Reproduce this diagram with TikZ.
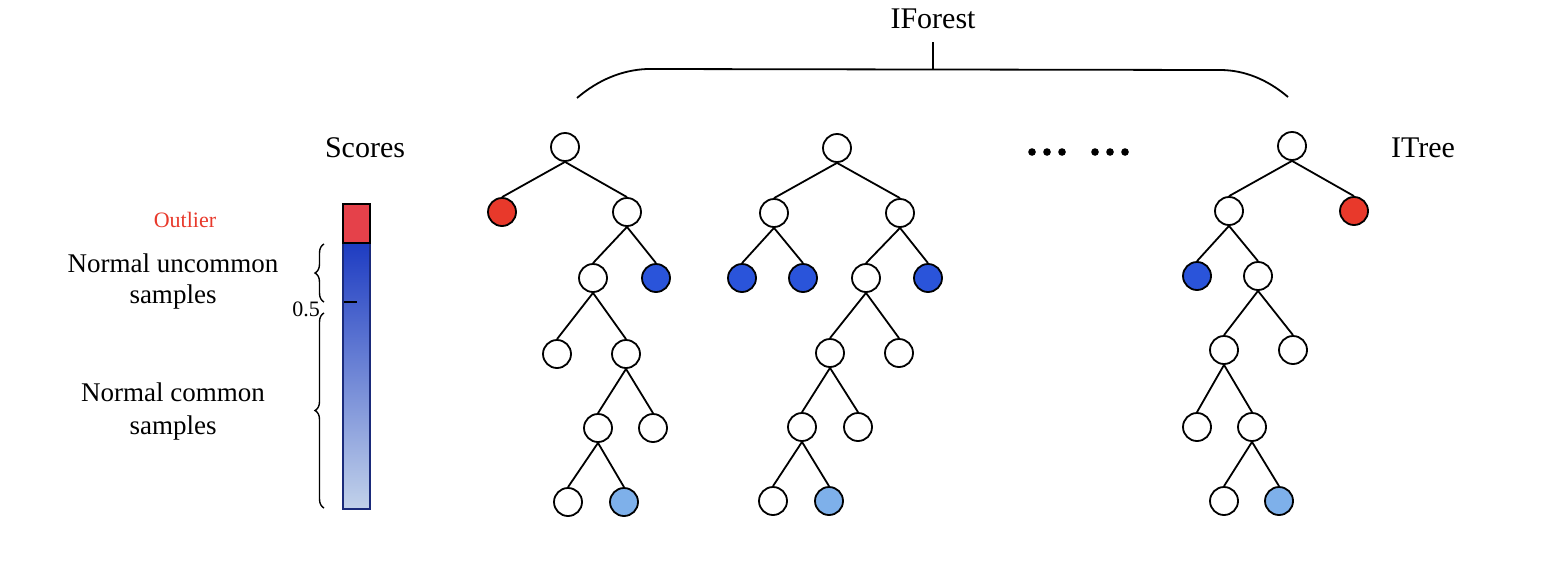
\documentclass[tikz,border=0pt]{standalone}
\usepackage{fontspec}
\setmainfont{Liberation Serif}
\usepackage{xcolor}
\usetikzlibrary{decorations.pathreplacing}
\definecolor{outred}{HTML}{E8392B}
\definecolor{barred}{HTML}{E5414A}
\definecolor{deepblue}{HTML}{2A54DA}
\definecolor{paleblue}{HTML}{7EB0EA}
\definecolor{bartop}{HTML}{1E3CC2}
\definecolor{barmid}{HTML}{4A72DC}
\definecolor{barbot}{HTML}{C2D2EA}
\definecolor{barline}{HTML}{1A2A7A}
\begin{document}
\begin{tikzpicture}[x=0.5pt,y=-0.5pt]
\tikzstyle{state}=[shape=circle,draw,line width=0.9pt,minimum size=14pt,inner sep=0pt,fill=white]
\tikzstyle{red}=[state,fill=outred]
\tikzstyle{blue}=[state,fill=deepblue]
\tikzstyle{light}=[state,fill=paleblue]
\tikzstyle{link}=[draw,line width=0.9pt]
\tikzstyle{head}=[font=\fontsize{15}{18}\selectfont]
\tikzstyle{label}=[font=\fontsize{13.5}{15.5}\selectfont,align=center]
\useasboundingbox (0,0) rectangle (1550,562);

\node[head] (forest) at (933,19) {IForest};
\node[head] (scores) at (365,148) {Scores};
\node[head] (itree) at (1423,148) {ITree};
\node[font=\fontsize{11}{13}\selectfont,text=outred] (outlier) at (185,220) {Outlier};
\node[label] (uncommon) at (173,282) {Normal uncommon\\samples};
\node[label,font=\fontsize{13.5}{16.5}\selectfont] (common) at (173,411) {Normal common\\samples};
\node[font=\fontsize{11}{13}\selectfont] (half) at (306,309) {0.5};

\coordinate (brace) at (933,69);
\draw[line width=0.9pt] (577,98) .. controls (598,80) and (622,70) .. (647,69) -- (1220,70)
  .. controls (1245,70) and (1268,80) .. (1288,97);
\draw[line width=0.9pt] (brace) -- ++(0,-27);

\shade[top color=bartop,middle color=barmid,bottom color=barbot,draw=barline,line width=0.9pt] (343,243) rectangle (370,509);
\draw[fill=barred,line width=0.9pt] (343,204) rectangle (370,243);
\draw[line width=0.9pt] (344,302) -- (357,302);
\draw[decorate,decoration={brace,amplitude=4.5pt},line width=0.7pt] (324,302) -- (324,244);
\draw[decorate,decoration={brace,amplitude=4.5pt},line width=0.7pt] (324,508) -- (324,313);

\node[state] (t1r) at (565,147) {};
\node[red] (t1a) at (502,212) {};
\node[state] (t1b) at (627,212) {};
\node[state] (t1c) at (593,278) {};
\node[blue] (t1d) at (656,278) {};
\node[state] (t1e) at (557,354) {};
\node[state] (t1f) at (626,354) {};
\node[state] (t1g) at (598,428) {};
\node[state] (t1h) at (653,428) {};
\node[state] (t1i) at (568,502) {};
\node[light] (t1j) at (624,502) {};

\node[state] (t2r) at (837,148) {};
\node[state] (t2a) at (774,213) {};
\node[state] (t2b) at (900,213) {};
\node[blue] (t2c) at (742,278) {};
\node[blue] (t2d) at (803,278) {};
\node[state] (t2e) at (866,278) {};
\node[blue] (t2f) at (928,278) {};
\node[state] (t2g) at (830,353) {};
\node[state] (t2h) at (899,353) {};
\node[state] (t2i) at (802,427) {};
\node[state] (t2j) at (858,427) {};
\node[state] (t2k) at (773,501) {};
\node[light] (t2l) at (829,501) {};

\node[state] (t3r) at (1292,146) {};
\node[state] (t3a) at (1229,211) {};
\node[red] (t3b) at (1354,211) {};
\node[blue] (t3c) at (1197,276) {};
\node[state] (t3d) at (1258,276) {};
\node[state] (t3e) at (1224,350) {};
\node[state] (t3f) at (1293,350) {};
\node[state] (t3g) at (1197,427) {};
\node[state] (t3h) at (1252,427) {};
\node[state] (t3i) at (1224,501) {};
\node[light] (t3j) at (1279,501) {};

\foreach \x [count=\i] in {1032,1047,1062,1095,1110,1125}
  \node[circle,fill,inner sep=0pt,minimum size=3.8pt] (dot\i) at (\x,152) {};

\foreach \p/\c in {r/a,r/b,b/c,b/d,c/e,c/f,f/g,f/h,g/i,g/j}
  \path[link] (t1\p.south) edge (t1\c.north);
\foreach \p/\c in {r/a,r/b,a/c,a/d,b/e,b/f,e/g,e/h,g/i,g/j,i/k,i/l}
  \path[link] (t2\p.south) edge (t2\c.north);
\foreach \p/\c in {r/a,r/b,a/c,a/d,d/e,d/f,e/g,e/h,h/i,h/j}
  \path[link] (t3\p.south) edge (t3\c.north);
\end{tikzpicture}
\end{document}
